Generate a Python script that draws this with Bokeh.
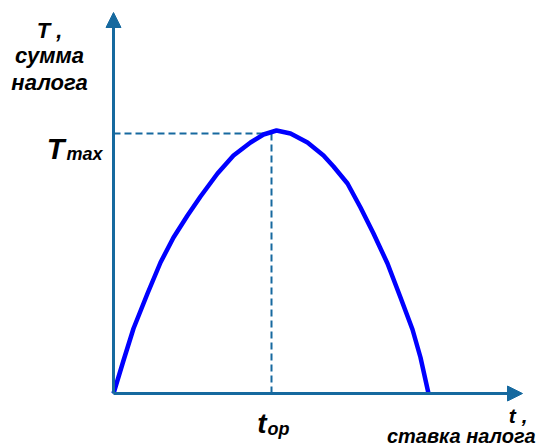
from bokeh.plotting import figure
from bokeh.models import Range1d, Arrow, NormalHead
from bokeh.core.properties import value
from bokeh.embed import file_html
from bokeh.resources import INLINE

# Laffer curve values (tax rate t, tax revenue T)
rate = [0, 10, 20, 34, 47, 60, 74, 87, 104, 120, 137, 150, 163, 177,
        194, 210, 220, 234, 247, 260, 274, 287, 299, 307, 315]
revenue = [0, 33, 65, 100, 131, 156, 178, 197, 220, 238, 251, 259, 263, 260,
           251, 238, 227, 210, 186, 160, 130, 96, 64, 36, 0]
t_op = 158
T_max = 260
t_axis_end = 409
T_axis_end = 381

AXIS = "#16699f"
CURVE = "#0000ff"
FONT = value("Liberation Sans")

p = figure(width=541, height=447, output_backend="svg", toolbar_location=None,
           x_range=Range1d(-113, 428), y_range=Range1d(-54, 393),
           min_border=0, outline_line_color=None)
p.axis.visible = False
p.grid.visible = False
p.background_fill_color = "white"
p.border_fill_color = "white"

# dashed guides
p.line([0, t_op], [T_max, T_max], line_color=AXIS, line_width=2, line_dash="7 4")
p.line([t_op, t_op], [0, T_max], line_color=AXIS, line_width=2, line_dash="7 4")

# axes with arrows
p.add_layout(Arrow(end=NormalHead(size=15, fill_color=AXIS, line_color=AXIS),
                   x_start=0, y_start=0, x_end=0, y_end=T_axis_end,
                   line_color=AXIS, line_width=3))
p.add_layout(Arrow(end=NormalHead(size=15, fill_color=AXIS, line_color=AXIS),
                   x_start=0, y_start=0, x_end=t_axis_end, y_end=0,
                   line_color=AXIS, line_width=3))

# curve
p.line(rate, revenue, line_color=CURVE, line_width=4.5, line_join="round")

common = dict(text_font=FONT, text_font_style="bold italic", text_color="black")

# y-axis title
p.text(x=[-64, -64, -64], y=[363, 338, 311], text=["T ,", "сумма", "налога"],
       text_font_size="22px", text_align="center", text_baseline="alphabetic", **common)
# T max
p.text(x=[-49], y=[T_max - 15], text=["T"], text_font_size="29px",
       text_align="right", text_baseline="alphabetic", **common)
p.text(x=[-11], y=[T_max - 20], text=["max"], text_font_size="18px",
       text_align="right", text_baseline="alphabetic", **common)
# t op
p.text(x=[t_op - 5], y=[-30], text=["t"], text_font_size="28px",
       text_align="right", text_baseline="alphabetic", **common)
p.text(x=[t_op - 4], y=[-35], text=["op"], text_font_size="18px",
       text_align="left", text_baseline="alphabetic", **common)
# x-axis title
p.text(x=[414], y=[-22], text=["t ,"], text_font_size="21px",
       text_align="right", text_baseline="alphabetic", **common)
p.text(x=[422], y=[-42], text=["ставка налога"], text_font_size="20px",
       text_align="right", text_baseline="alphabetic", **common)

open("out.html", "w").write(file_html(p, INLINE))
